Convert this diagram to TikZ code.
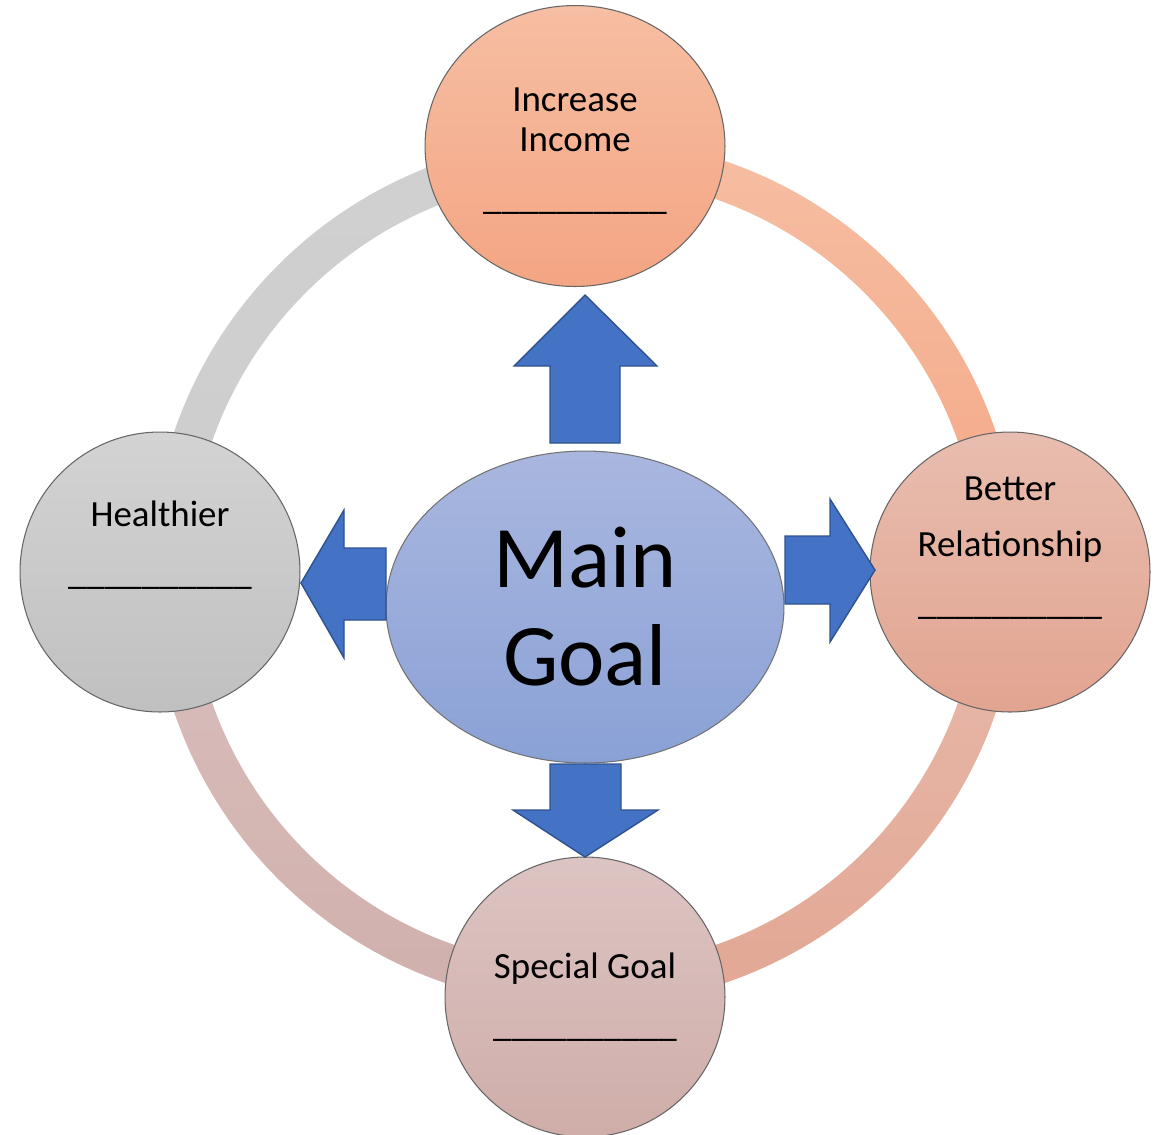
\documentclass[tikz,border=0pt]{standalone}
\usepackage{fontspec}
\setmainfont{Carlito}
\usepackage{tikz}
\usetikzlibrary{shapes.geometric}
\definecolor{incomeA}{HTML}{F6BEA3}
\definecolor{incomeB}{HTML}{F4A583}
\definecolor{healthA}{HTML}{D3D3D3}
\definecolor{healthB}{HTML}{C0C0C0}
\definecolor{relateA}{HTML}{E8BDAF}
\definecolor{relateB}{HTML}{E2A491}
\definecolor{specialA}{HTML}{DCC4C2}
\definecolor{specialB}{HTML}{CFADA9}
\definecolor{mainA}{HTML}{A9B7DF}
\definecolor{mainB}{HTML}{8AA1D6}
\definecolor{arrowfill}{HTML}{4472C4}
\definecolor{arrowedge}{HTML}{2F528F}
\tikzset{goal/.style={circle,minimum size=5.6cm,draw=black!60,line width=0.6pt,shading=axis,inner sep=0pt},lbl/.style={font=\fontsize{21}{22.8}\selectfont,align=center,inner sep=0pt,anchor=north},blockarr/.style={fill=arrowfill,draw=arrowedge,line width=0.8pt,line join=miter}}
\begin{document}
\begin{tikzpicture}[x=0.02cm,y=-0.02cm]
\useasboundingbox (0,0) rectangle (1159,1134);
% ring behind the goals, one shaded quarter per goal
\begin{scope}[shift={(585,572)}]
\shade[top color=healthA!85!healthB,bottom color=healthA!70!healthB] (180:434) arc[start angle=180,end angle=270,radius=434] -- (270:395) arc[start angle=270,end angle=180,radius=395] -- cycle;
\shade[top color=incomeA,bottom color=incomeB!90!incomeA] (270:434) arc[start angle=270,end angle=360,radius=434] -- (0:395) arc[start angle=360,end angle=270,radius=395] -- cycle;
\shade[top color=relateA!90!relateB,bottom color=relateB!90!relateA] (0:434) arc[start angle=0,end angle=90,radius=434] -- (90:395) arc[start angle=90,end angle=0,radius=395] -- cycle;
\shade[top color=specialA!80!specialB,bottom color=specialB!90!specialA] (90:434) arc[start angle=90,end angle=180,radius=434] -- (180:395) arc[start angle=180,end angle=90,radius=395] -- cycle;
\end{scope}
% goals
\node[goal,ellipse,minimum width=6cm,minimum height=5.62cm,top color=incomeA,bottom color=incomeB] (income) at (575,146) {};
\node[goal,top color=healthA,bottom color=healthB] (health) at (160,572) {};
\node[goal,top color=relateA,bottom color=relateB] (relate) at (1010,572) {};
\node[goal,top color=specialA,bottom color=specialB] (special) at (585,997) {};
\node[goal,ellipse,minimum width=7.96cm,minimum height=6.24cm,top color=mainA,bottom color=mainB,draw=black!55,font=\fontsize{50}{55.8}\selectfont,align=center] (main) at (585,607) {Main\\Goal};
% texts in the goals
\node[lbl] (incomeText) at (575,87) {Increase\\Income\\[0.36cm]\_\_\_\_\_\_\_\_\_\_};
\node[lbl] (healthText) at (160,501) {Healthier\\[0.34cm]\_\_\_\_\_\_\_\_\_\_};
\node[lbl] (relateText) at (1010,476) {Better\\[0.32cm]Relationship\\[0.36cm]\_\_\_\_\_\_\_\_\_\_};
\node[lbl] (specialText) at (585,953) {Special Goal\\[0.34cm]\_\_\_\_\_\_\_\_\_\_};
% block arrows out of the main goal
\draw[blockarr] (550,443) -- (550,366) -- (514,366) -- (585,295) -- (657,366) -- (620,366) -- (620,443) -- cycle;
\draw[blockarr] (785,536) -- (830,536) -- (830,499) -- (875,570) -- (830,642) -- (830,604) -- (785,604) -- cycle;
\draw[blockarr] (386,548) -- (344,548) -- (344,510) -- (301,583) -- (344,658) -- (344,620) -- (386,620) -- cycle;
\draw[blockarr] (550,764) -- (550,810) -- (513,810) -- (585,857) -- (658,810) -- (621,810) -- (621,764) -- cycle;
\end{tikzpicture}
\end{document}
